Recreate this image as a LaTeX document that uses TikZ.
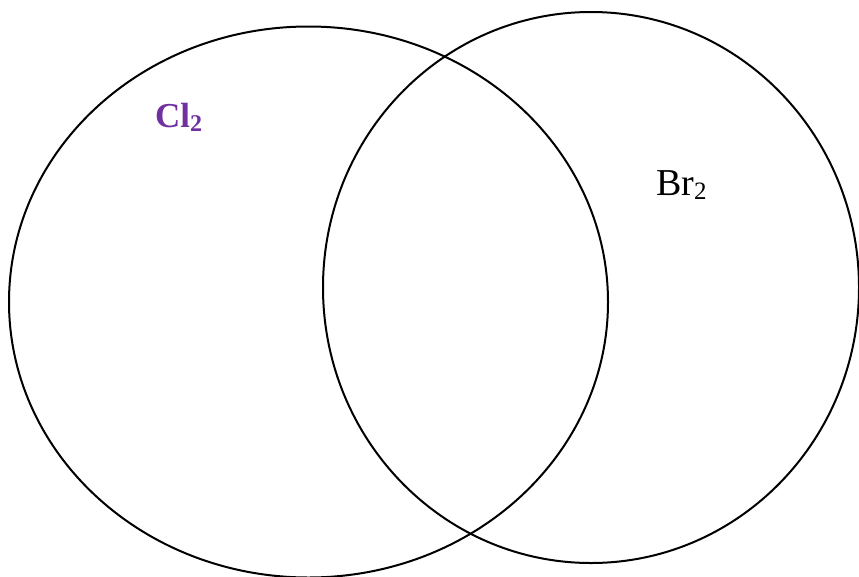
\documentclass[tikz,border=0pt]{standalone}
\usepackage{fontspec}
\setmainfont{Liberation Serif}
\usetikzlibrary{shapes.geometric}
\definecolor{clpurple}{RGB}{112,48,160}
\newcommand{\subtwo}[1]{\raisebox{-4pt}{\fontsize{#1}{#1}\selectfont 2}}

\begin{document}
\begin{tikzpicture}[x=1pt,y=-1pt,
        set/.style={draw,ellipse,line width=2pt,inner sep=0pt},
        setlabel/.style={anchor=base west,inner sep=0pt}]
    \useasboundingbox (0,0) rectangle (859,576);
    \node[set,minimum width=599pt,minimum height=551pt] (cl) at (308.5,302) {};
    \node[set,minimum width=536pt,minimum height=551pt] (br) at (591,287.5) {};
    \node[setlabel,text=clpurple,font=\fontsize{35}{37}\selectfont\bfseries] (cllabel) at (155,127) {Cl\subtwo{24}};
    \node[setlabel,font=\fontsize{38}{40}\selectfont] (brlabel) at (656,195) {Br\subtwo{25}};
\end{tikzpicture}
\end{document}
